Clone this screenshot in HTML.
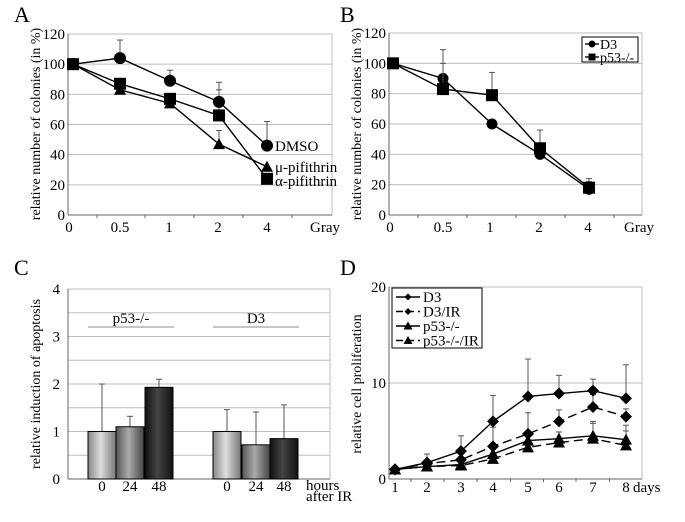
<!DOCTYPE html>
<html><head><meta charset="utf-8"><style>
body{margin:0;background:#fff}
svg{display:block;font-family:"Liberation Serif","DejaVu Serif",serif}
text{font-family:"Liberation Serif","DejaVu Serif",serif}
</style></head><body>
<svg id="s" width="685" height="522" viewBox="0 0 685 522" xmlns="http://www.w3.org/2000/svg" font-family="Liberation Serif, DejaVu Serif, serif"></svg>
<script>
const s=document.getElementById('s');let h='';
const G='#bdbdbd';
function t(x,y,str,sz,anc,extra){h+=`<text x="${x}" y="${y}" font-size="${sz}" font-family="Liberation Serif, DejaVu Serif, serif" text-anchor="${anc||'start'}" ${extra||''}>${str}</text>`;}
function L(x1,y1,x2,y2,c,w,d){h+=`<line x1="${x1}" y1="${y1}" x2="${x2}" y2="${y2}" stroke="${c}" stroke-width="${w||1}" ${d?`stroke-dasharray="${d}"`:''}/>`;}
function mk(type,x,y,r){
 if(type=='c')h+=`<circle cx="${x}" cy="${y}" r="${r}" fill="#000"/>`;
 else if(type=='s')h+=`<rect x="${x-r}" y="${y-r}" width="${2*r}" height="${2*r}" fill="#000"/>`;
 else if(type=='t')h+=`<polygon points="${x},${y-r-1} ${x-r-1},${y+r} ${x+r+1},${y+r}" fill="#000"/>`;
 else if(type=='d')h+=`<polygon points="${x},${y-r} ${x-r},${y} ${x},${y+r} ${x+r},${y}" fill="#000"/>`;
}
function series(xs,vs,fy,type,r,dash,errs){
 if(errs)errs.forEach((e,i)=>{if(e!=null){const x=xs[i];L(x,fy(vs[i]),x,fy(e),'#555',1);L(x-3,fy(e),x+3,fy(e),'#555',1);}});
 h+=`<polyline points="${xs.map((x,i)=>x+','+fy(vs[i])).join(' ')}" fill="none" stroke="#000" stroke-width="1.4" ${dash?`stroke-dasharray="${dash}"`:''}/>`;
 xs.forEach((x,i)=>mk(type,x,fy(vs[i]),r));
}
// Panel A
t(14,22,'A',22);
{const x0=68,x1=332,y0=34,y1=215,fy=v=>y1-v*(y1-y0)/120;
 for(let v=20;v<=120;v+=20)L(x0,fy(v),x1,fy(v),G);
 h+=`<rect x="${x0}" y="${y0}" width="${x1-x0}" height="${y1-y0}" fill="none" stroke="${G}"/>`;
 L(x0,y0,x0,y1,'#666');L(x0,y1,x1,y1,'#666');
 for(let v=0;v<=120;v+=20)t(x0-3,fy(v)+5,v,15,'end');
 const xs=[73,120,170,219,267];
 [97,145,194,243,292].forEach(x=>L(x,y1,x,y1+3,'#666'));
 [['0',69],['0.5',120],['1',169],['2',218],['4',267]].forEach(a=>t(a[1],232,a[0],15,'middle'));
 t(310,232,'Gray',15);
 t(0,0,'relative number of colonies (in %)',14,'middle','transform="translate(40,124) rotate(-90)"');
 series(xs,[100,83,74,47,32],fy,'t',5,null,[null,null,null,56,null]);
 series(xs,[100,87,77,66,24],fy,'s',6,null,[null,null,null,83,null]);
 series(xs,[100,104,89,75,46],fy,'c',6,null,[null,116,96,88,62]);
 t(275,151,'DMSO',15);t(275,172,'μ-pifithrin',15);t(275,186,'α-pifithrin',15);
}
// Panel B
t(340,22,'B',22);
{const x0=389,x1=642,y0=33,y1=215,fy=v=>y1-v*(y1-y0)/120;
 for(let v=20;v<=120;v+=20)L(x0,fy(v),x1,fy(v),G);
 h+=`<rect x="${x0}" y="${y0}" width="${x1-x0}" height="${y1-y0}" fill="none" stroke="${G}"/>`;
 L(x0,y0,x0,y1,'#666');L(x0,y1,x1,y1,'#666');
 for(let v=0;v<=120;v+=20)t(x0-3,fy(v)+5,v,15,'end');
 const xs=[393,443,492,540,589];
 [418,467,516,565,614].forEach(x=>L(x,y1,x,y1+3,'#666'));
 [['0',390],['0.5',443],['1',490],['2',539],['4',588]].forEach(a=>t(a[1],232,a[0],15,'middle'));
 t(624,232,'Gray',15);
 t(0,0,'relative number of colonies (in %)',14,'middle','transform="translate(361,124) rotate(-90)"');
 series(xs,[100,90,60,40,17],fy,'c',5.5,null,[null,109,null,null,22]);
 series(xs,[100,83,79,44,18],fy,'s',6,null,[null,100,94,56,24]);
 h+=`<rect x="582" y="37" width="56" height="25" fill="#fff" stroke="#000"/>`;
 L(585,44,599,44,'#000',1.4);mk('c',592,44,3.5);t(600,49,'D3',14);
 L(585,57,599,57,'#000',1.4);mk('s',592,57,3.5);t(600,62,'p53-/-',14);
}
// Panel C
t(14,275,'C',22);
{const x0=68,x1=330,y0=289,y1=479,fy=v=>y1-v*(y1-y0)/4;
 for(let v=0.5;v<=4;v+=0.5)L(x0,fy(v),x1,fy(v),G);
 h+=`<rect x="${x0}" y="${y0}" width="${x1-x0}" height="${y1-y0}" fill="none" stroke="${G}"/>`;
 L(x0,y0,x0,y1,'#666');L(x0,y1,x1,y1,'#666');
 for(let v=0;v<=4;v++)t(x0-8,fy(v)+5,v,15,'end');
 h+=`<defs><linearGradient id="g1"><stop offset="0" stop-color="#888"/><stop offset=".45" stop-color="#ddd"/><stop offset="1" stop-color="#777"/></linearGradient>
 <linearGradient id="g2"><stop offset="0" stop-color="#555"/><stop offset=".45" stop-color="#aaa"/><stop offset="1" stop-color="#444"/></linearGradient>
 <linearGradient id="g3"><stop offset="0" stop-color="#111"/><stop offset=".45" stop-color="#444"/><stop offset="1" stop-color="#111"/></linearGradient></defs>`;
 const bars=[[88,1,2.0,'g1'],[116,1.1,1.32,'g2'],[145,1.93,2.1,'g3'],[213,1,1.46,'g1'],[242,0.72,1.41,'g2'],[270,0.85,1.56,'g3']];
 bars.forEach(b=>{const w=28;L(b[0]+w/2,fy(b[1]),b[0]+w/2,fy(b[2]),'#555');L(b[0]+w/2-3,fy(b[2]),b[0]+w/2+3,fy(b[2]),'#555');
  h+=`<rect x="${b[0]}" y="${fy(b[1])}" width="${w}" height="${y1-fy(b[1])}" fill="url(#${b[3]})" stroke="#000"/>`;});
 L(88,327,174,327,'#888');L(213,327,299,327,'#888');
 t(131,323,'p53-/-',15,'middle');t(256,323,'D3',15,'middle');
 [[102,'0'],[130,'24'],[159,'48'],[227,'0'],[256,'24'],[284,'48']].forEach(a=>t(a[0],491,a[1],15,'middle'));
 t(306,490,'hours',15);t(306,501,'after IR',15);
 t(0,0,'relative induction of apoptosis',14,'middle','transform="translate(40,384) rotate(-90)"');
}
// Panel D
t(340,275,'D',22);
{const x0=389,x1=642,y0=287,y1=479,fy=v=>y1-v*(y1-y0)/20;
 L(x0,fy(10),x1,fy(10),G);
 h+=`<rect x="${x0}" y="${y0}" width="${x1-x0}" height="${y1-y0}" fill="none" stroke="${G}"/>`;
 L(x0,y0,x0,y1,'#666');L(x0,y1,x1,y1,'#666');
 [0,10,20].forEach(v=>t(x0-3,fy(v)+5,v,15,'end'));
 const xs=[395,427,461,493,528,559,593,626];
 xs.forEach((x,i)=>{t(x,492,i+1,15,'middle');if(i)L((x+xs[i-1])/2,y1,(x+xs[i-1])/2,y1+3,'#666');});
 t(633,492,'days',15);
 t(0,0,'relative cell proliferation',14,'middle','transform="translate(361,384) rotate(-90)"');
 series(xs,[1,1.3,1.4,2.1,3.3,3.8,4.2,3.5],fy,'t',5,'9,5',[null,null,null,null,null,null,5.8,5.0]);
 series(xs,[1,1.3,1.5,2.6,4,4.2,4.5,4.1],fy,'t',5,null,[null,null,null,null,null,4.9,6.0,5.6]);
 series(xs,[1,1.6,2.0,3.4,4.7,6,7.5,6.5],fy,'d',6,'9,5',[null,null,null,5.4,6.9,7.2,8.8,7.3]);
 series(xs,[1,1.7,2.9,6,8.6,8.9,9.2,8.4],fy,'d',6,null,[null,2.6,4.5,8.7,12.5,10.8,10.4,11.9]);
 h+=`<rect x="392" y="288" width="90" height="60" fill="#fff" stroke="#000"/>`;
 [['D3','d',null],['D3/IR','d','7,4'],['p53-/-','t',null],['p53-/-/IR','t','7,4']].forEach((a,i)=>{
  const y=297+i*14.5;L(396,y,420,y,'#000',1.4,a[2]);mk(a[1],408,y,3.5);t(423,y+5,a[0],15);});
}
s.innerHTML=h;
</script>
</body></html>
